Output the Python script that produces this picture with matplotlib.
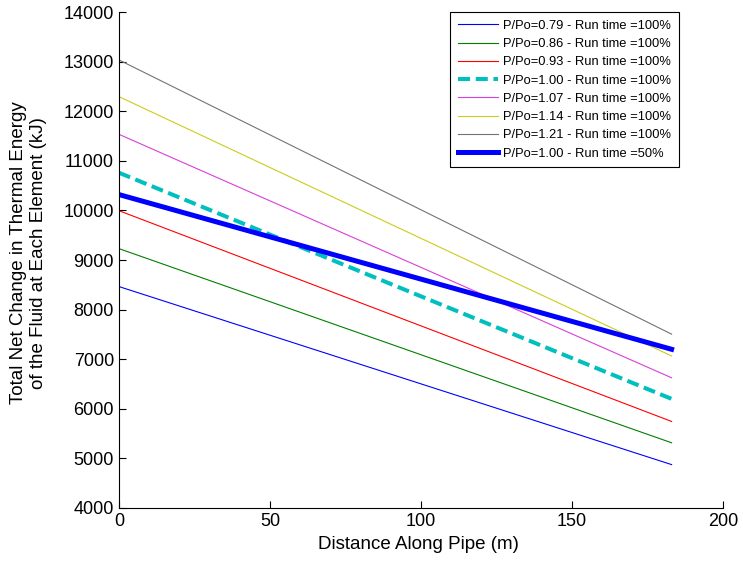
import matplotlib
matplotlib.use("Agg")
import matplotlib.pyplot as plt

plt.rcParams['font.family'] = ['Liberation Sans', 'DejaVu Sans']

# Distance along the pipe at the inlet and outlet element (m)
distance = [0.0, 183.0]

# Net thermal energy change at each end of the pipe (kJ)
e_079 = [8465, 4875]
e_086 = [9230, 5315]
e_093 = [9995, 5745]
e_100 = [10760, 6200]
e_107 = [11535, 6625]
e_114 = [12295, 7065]
e_121 = [13035, 7505]
e_100_half = [10320, 7200]

labels = [
    "P/Po=0.79 - Run time =100%",
    "P/Po=0.86 - Run time =100%",
    "P/Po=0.93 - Run time =100%",
    "P/Po=1.00 - Run time =100%",
    "P/Po=1.07 - Run time =100%",
    "P/Po=1.14 - Run time =100%",
    "P/Po=1.21 - Run time =100%",
    "P/Po=1.00 - Run time =50%",
]

x_ticks = [0, 50, 100, 150, 200]
y_ticks = [4000, 5000, 6000, 7000, 8000, 9000, 10000, 11000, 12000, 13000, 14000]

fig = plt.figure(figsize=(7.43, 5.62), dpi=100)
ax = fig.add_axes([0.160, 0.0961, 0.813, 0.8825])

ax.plot(distance, e_079, color=(0, 0, 1), lw=0.8, label=labels[0])
ax.plot(distance, e_086, color=(0, 0.5, 0), lw=0.8, label=labels[1])
ax.plot(distance, e_093, color=(1, 0, 0), lw=0.8, label=labels[2])
ax.plot(distance, e_100, color=(0, 0.75, 0.75), lw=2.9, ls=(0, (3, 1.4)), label=labels[3])
ax.plot(distance, e_107, color=(0.85, 0.25, 0.85), lw=0.8, label=labels[4])
ax.plot(distance, e_114, color=(0.8, 0.8, 0.1), lw=0.8, label=labels[5])
ax.plot(distance, e_121, color=(0.45, 0.45, 0.45), lw=0.8, label=labels[6])
ax.plot(distance, e_100_half, color=(0, 0, 1), lw=3.6, label=labels[7])

ax.set_xlim(0, 200)
ax.set_ylim(4000, 14000)
ax.set_xticks(x_ticks)
ax.set_yticks(y_ticks)
ax.tick_params(direction='in', length=5, labelsize=13, width=0.8)
ax.spines['top'].set_visible(False)
ax.spines['right'].set_visible(False)

ax.set_xlabel("Distance Along Pipe (m)", fontsize=13.5)
ax.xaxis.set_label_coords(0.496, -0.056)
ax.set_ylabel("Total Net Change in Thermal Energy\nof the Fluid at Each Element (kJ)",
              fontsize=13.5)
ax.yaxis.set_label_coords(-0.119, 0.514)

leg = ax.legend(loc='upper right', bbox_to_anchor=(0.927, 1.0), fontsize=9.3,
                frameon=True, fancybox=False, edgecolor='black', framealpha=1,
                handlelength=3.1, handletextpad=0.4, labelspacing=0.48,
                borderpad=0.6, borderaxespad=0)
leg.get_frame().set_linewidth(0.8)

fig.savefig("out.png", dpi=100)
